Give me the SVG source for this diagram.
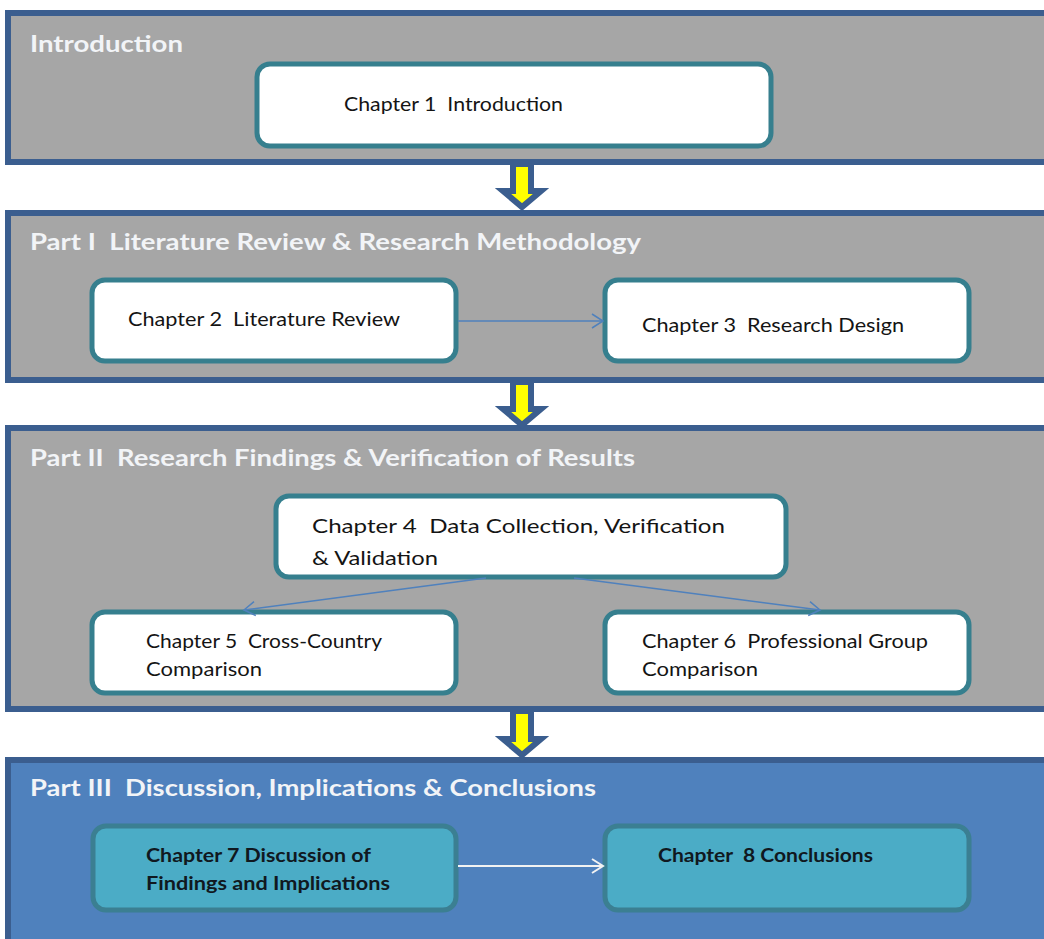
<svg xmlns="http://www.w3.org/2000/svg" width="1044" height="939" viewBox="0 0 1044 939" xml:space="preserve">
  <style>
    text { white-space: pre; }
    .panel { fill: #a6a6a6; stroke: #3b5e8f; stroke-width: 6; }
    .panel-blue { fill: #4f81bd; stroke: #3b5e8f; stroke-width: 6; }
    .box { fill: #ffffff; stroke: #367f8e; stroke-width: 5; }
    .box-teal { fill: #4bacc6; stroke: #3b7f92; stroke-width: 5; }
    .title { font-family: Lato, "Liberation Sans", sans-serif; font-weight: bold; font-size: 23px; fill: #f2f4f7; }
    .label { font-family: Lato, "Liberation Sans", sans-serif; font-size: 19px; fill: #141414; }
    .label-bold { font-family: Lato, "Liberation Sans", sans-serif; font-weight: bold; font-size: 19px; fill: #101820; }
    .flow { fill: #ffff00; stroke: #3b5e8f; stroke-width: 6; stroke-linejoin: miter; }
    .link { fill: none; stroke: #4f81bd; stroke-width: 1.5; }
    .link-white { fill: none; stroke: #f2f2f2; stroke-width: 2; }
  </style>
  <defs>
    <marker id="open-blue" markerUnits="userSpaceOnUse" markerWidth="16" markerHeight="16" refX="12" refY="8" orient="auto">
      <path d="M1,1 L12,8 L1,15" fill="none" stroke="#4f81bd" stroke-width="1.5"/>
    </marker>
    <marker id="open-white" markerUnits="userSpaceOnUse" markerWidth="16" markerHeight="16" refX="12" refY="8" orient="auto">
      <path d="M1,1 L12,8 L1,15" fill="none" stroke="#f2f2f2" stroke-width="2"/>
    </marker>
  </defs>

  <rect width="1044" height="939" fill="#ffffff"/>

  <!-- Section panels -->
  <g id="panel-introduction">
    <rect class="panel" x="8" y="13" width="1060" height="149"/>
    <text class="title" x="30" y="52" textLength="153" lengthAdjust="spacingAndGlyphs">Introduction</text>
  </g>
  <g id="panel-part1">
    <rect class="panel" x="8" y="213" width="1060" height="167"/>
    <text class="title" x="30" y="250" textLength="611" lengthAdjust="spacingAndGlyphs">Part I  Literature Review &amp; Research Methodology</text>
  </g>
  <g id="panel-part2">
    <rect class="panel" x="8" y="428" width="1060" height="281"/>
    <text class="title" x="30" y="466" textLength="605" lengthAdjust="spacingAndGlyphs">Part II  Research Findings &amp; Verification of Results</text>
  </g>
  <g id="panel-part3">
    <rect class="panel-blue" x="8" y="760" width="1060" height="200"/>
    <text class="title" x="30" y="796" textLength="566" lengthAdjust="spacingAndGlyphs">Part III  Discussion, Implications &amp; Conclusions</text>
  </g>

  <!-- Chapter nodes -->
  <g id="ch1">
    <rect class="box" x="257" y="64" width="514" height="82" rx="13"/>
    <text class="label" x="344" y="111" textLength="219" lengthAdjust="spacingAndGlyphs">Chapter 1  Introduction</text>
  </g>
  <g id="ch2">
    <rect class="box" x="92" y="280" width="364" height="81" rx="13"/>
    <text class="label" x="128" y="326" textLength="272" lengthAdjust="spacingAndGlyphs">Chapter 2  Literature Review</text>
  </g>
  <g id="ch3">
    <rect class="box" x="605" y="280" width="364" height="81" rx="13"/>
    <text class="label" x="642" y="332" textLength="262" lengthAdjust="spacingAndGlyphs">Chapter 3  Research Design</text>
  </g>
  <g id="ch4">
    <rect class="box" x="276" y="496" width="510" height="81" rx="13"/>
    <text class="label" x="312" y="533" textLength="413" lengthAdjust="spacingAndGlyphs">Chapter 4  Data Collection, Verification</text>
    <text class="label" x="312" y="565" textLength="126" lengthAdjust="spacingAndGlyphs">&amp; Validation</text>
  </g>
  <g id="ch5">
    <rect class="box" x="92" y="612" width="364" height="81" rx="13"/>
    <text class="label" x="146" y="648" textLength="236" lengthAdjust="spacingAndGlyphs">Chapter 5  Cross-Country</text>
    <text class="label" x="146" y="676" textLength="116" lengthAdjust="spacingAndGlyphs">Comparison</text>
  </g>
  <g id="ch6">
    <rect class="box" x="605" y="612" width="364" height="81" rx="13"/>
    <text class="label" x="642" y="648" textLength="286" lengthAdjust="spacingAndGlyphs">Chapter 6  Professional Group</text>
    <text class="label" x="642" y="676" textLength="116" lengthAdjust="spacingAndGlyphs">Comparison</text>
  </g>
  <g id="ch7">
    <rect class="box-teal" x="93" y="826" width="363" height="84" rx="13"/>
    <text class="label-bold" x="146" y="862" textLength="225" lengthAdjust="spacingAndGlyphs">Chapter 7 Discussion of</text>
    <text class="label-bold" x="146" y="890" textLength="244" lengthAdjust="spacingAndGlyphs">Findings and Implications</text>
  </g>
  <g id="ch8">
    <rect class="box-teal" x="605" y="826" width="364" height="84" rx="13"/>
    <text class="label-bold" x="658" y="862" textLength="215" lengthAdjust="spacingAndGlyphs">Chapter  8 Conclusions</text>
  </g>

  <!-- Connectors -->
  <g id="connectors">
    <polygon class="flow" points="513,164 531,164 531,191 541,191 522,207 503,191 513,191"/>
    <polygon class="flow" points="513,382 531,382 531,409 541,409 522,425 503,409 513,409"/>
    <polygon class="flow" points="513,711 531,711 531,739 541,739 522,755 503,739 513,739"/>
    <line class="link" x1="458" y1="321" x2="603" y2="321" marker-end="url(#open-blue)"/>
    <line class="link" x1="486" y1="578" x2="244" y2="610" marker-end="url(#open-blue)"/>
    <line class="link" x1="574" y1="578" x2="820" y2="610" marker-end="url(#open-blue)"/>
    <line class="link-white" x1="458" y1="866" x2="603" y2="866" marker-end="url(#open-white)"/>
  </g>
</svg>
